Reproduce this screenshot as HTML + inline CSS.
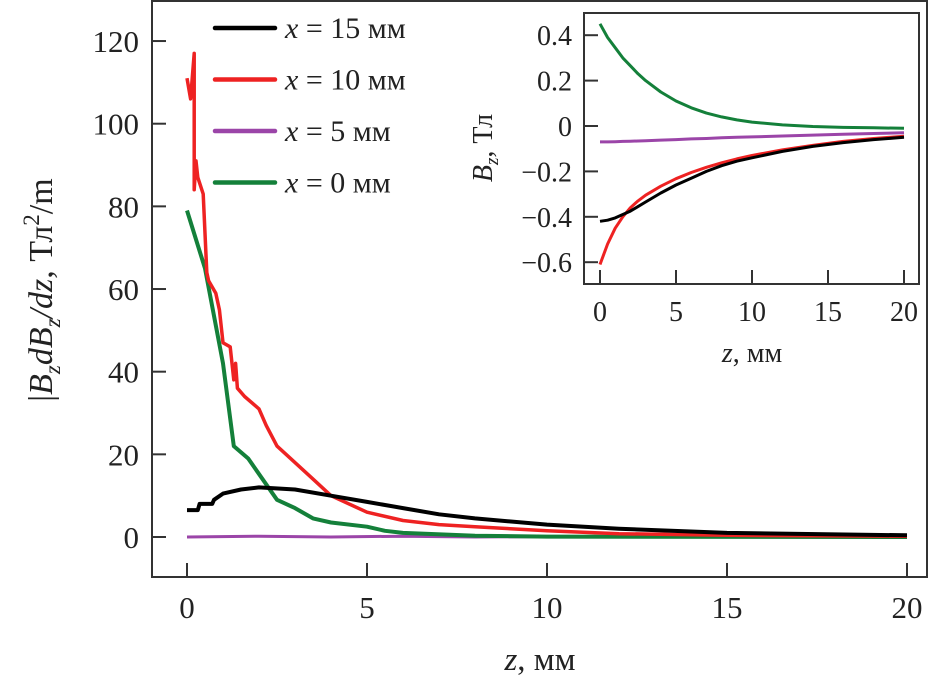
<!DOCTYPE html>
<html><head><meta charset="utf-8"><style>
body{margin:0;background:#fff}
svg text{font-family:"Liberation Serif","Times New Roman","DejaVu Serif",serif;fill:#222}
</style></head><body>
<svg width="942" height="683" viewBox="0 0 942 683" xmlns="http://www.w3.org/2000/svg" id="chart" font-family="Liberation Serif, serif">
<g id="main"></g>
<g id="inset"></g>
</svg>
<script>
const seriesNames=["x = 15 мм","x = 10 мм","x = 5 мм","x = 0 мм"];
const seriesColors=["#000000","#ee2222","#9b45a8","#14803a"];
const mainXTicks=[0,5,10,15,20];
const mainYTicks=[0,20,40,60,80,100,120];
const z15=[0,0.3,0.35,0.7,0.75,1,1.5,2,3,4,5,6,7,8,10,12,15,20];
const v15=[6.5,6.5,8,8,9,10.5,11.5,12,11.5,10,8.5,7,5.5,4.5,3,2,1,0.4];
const z10=[0,0.1,0.2,0.2,0.25,0.3,0.45,0.55,0.6,0.8,0.9,1.0,1.2,1.3,1.35,1.4,1.6,2,2.2,2.5,3,3.5,4,5,6,7,8,10,12,15,20];
const v10=[111,106,117,84,91,87,83,64,62,59,55,47,46,38,42,36,34,31,27,22,18,14,10,6,4,3,2.5,1.5,0.8,0.4,0.2];
const z5=[0,2,4,6,8,10,15,20];
const v5=[0,0.2,0,0.2,0,0.1,0,0];
const z0=[0,0.5,1,1.3,1.7,2.5,3,3.5,4,5,5.5,6,8,10,20];
const v0=[79,65,42,22,19,9,7,4.5,3.5,2.5,1.5,1,0.3,0.1,0];
const insetXTicks=[0,5,10,15,20];
const insetYTicks=[0.4,0.2,0,-0.2,-0.4,-0.6];
const insetYLabels=["0.4","0.2","0","−0.2","−0.4","−0.6"];
const iz=[0,0.5,1,1.5,2,2.5,3,4,5,6,7,8,9,10,12,14,16,18,20];
const ib15=[-0.42,-0.415,-0.405,-0.39,-0.375,-0.355,-0.335,-0.295,-0.26,-0.23,-0.2,-0.175,-0.155,-0.14,-0.112,-0.09,-0.073,-0.06,-0.05];
const ib10=[-0.61,-0.52,-0.45,-0.40,-0.36,-0.33,-0.305,-0.265,-0.232,-0.205,-0.182,-0.162,-0.145,-0.13,-0.105,-0.085,-0.068,-0.055,-0.045];
const ib5=[-0.07,-0.07,-0.069,-0.068,-0.067,-0.066,-0.065,-0.062,-0.06,-0.057,-0.055,-0.052,-0.05,-0.048,-0.044,-0.04,-0.036,-0.033,-0.03];
const ib0=[0.45,0.39,0.345,0.3,0.265,0.23,0.2,0.15,0.11,0.08,0.057,0.04,0.027,0.017,0.005,-0.002,-0.006,-0.008,-0.01];

const NS="http://www.w3.org/2000/svg";
function mk(p,t,a){const e=document.createElementNS(NS,t);for(const k in a)e.setAttribute(k,a[k]);if(t==='text')e.setAttribute('font-family','Liberation Serif, Times New Roman, serif');p.appendChild(e);return e;}
const main=document.getElementById('main'), inset=document.getElementById('inset');
const mx=v=>187+v*36, my=v=>537-v*4.133;
const ix=v=>600+v*15.2, iy=v=>126-v*227;
function path(g,xs,ys,fx,fy,col,w,name){
  let d=xs.map((x,i)=>(i?'L':'M')+fx(x).toFixed(1)+' '+fy(ys[i]).toFixed(1)).join(' ');
  const p=mk(g,'path',{d:d,fill:'none',stroke:col,'stroke-width':w,'stroke-linejoin':'round'});
  
  
}
let f=mk(main,'rect',{x:152,y:1,width:775,height:576,fill:'none',stroke:'#333','stroke-width':2});

mainXTicks.forEach(t=>{
  mk(main,'line',{x1:mx(t),x2:mx(t),y1:577,y2:563,stroke:'#333','stroke-width':2});
  const e=mk(main,'text',{x:mx(t),y:618,'font-size':31,'text-anchor':'middle'});e.textContent=t;
  
});
mainYTicks.forEach(t=>{
  mk(main,'line',{x1:152,x2:166,y1:my(t),y2:my(t),stroke:'#333','stroke-width':2});
  const e=mk(main,'text',{x:139,y:my(t)+11,'font-size':31,'text-anchor':'end'});e.textContent=t;
  
});
let xt=mk(main,'text',{x:540,y:670,'font-size':33,'text-anchor':'middle'});
xt.innerHTML='<tspan font-style="italic">z</tspan>, мм';

let yt=mk(main,'text',{transform:'translate(52,290) rotate(-90)','font-size':34,'text-anchor':'middle'});
yt.innerHTML='|<tspan font-style="italic">B</tspan><tspan font-size="23" dy="8" font-style="italic">z</tspan><tspan dy="-8" font-style="italic">dB</tspan><tspan font-size="23" dy="8" font-style="italic">z</tspan><tspan dy="-8" font-style="italic">/dz</tspan>, Тл<tspan font-size="23" dy="-13">2</tspan><tspan dy="13">/m</tspan>';

path(main,z5,v5,mx,my,seriesColors[2],3,'series-x5');
path(main,z0,v0,mx,my,seriesColors[3],4,'series-x0');
path(main,z10,v10,mx,my,seriesColors[1],3.5,'series-x10');
path(main,z15,v15,mx,my,seriesColors[0],4,'series-x15');
seriesNames.forEach((n,i)=>{
  const y=28+i*51.5;
  const l=mk(main,'line',{x1:215,x2:275,y1:y,y2:y,stroke:seriesColors[i],'stroke-width':4.5,'stroke-linecap':'round'});
  
  const t=mk(main,'text',{x:285,y:y+10,'font-size':30});
  t.innerHTML='<tspan font-style="italic">x</tspan>'+n.slice(1);
  
});
let bg=mk(inset,'rect',{x:584,y:13,width:335,height:271,fill:'#fff',stroke:'#333','stroke-width':2});

insetXTicks.forEach(t=>{
  mk(inset,'line',{x1:ix(t),x2:ix(t),y1:284,y2:270,stroke:'#333','stroke-width':2});
  const e=mk(inset,'text',{x:ix(t),y:321,'font-size':28,'text-anchor':'middle'});e.textContent=t;
  
});
insetYTicks.forEach((t,i)=>{
  mk(inset,'line',{x1:584,x2:598,y1:iy(t),y2:iy(t),stroke:'#333','stroke-width':2});
  const e=mk(inset,'text',{x:572,y:iy(t)+10,'font-size':28,'text-anchor':'end'});e.textContent=insetYLabels[i];
  
});
let ixt=mk(inset,'text',{x:752,y:362,'font-size':28,'text-anchor':'middle'});
ixt.innerHTML='<tspan font-style="italic">z</tspan>, мм';

let iyt=mk(inset,'text',{transform:'translate(492,148) rotate(-90)','font-size':28,'text-anchor':'middle'});
iyt.innerHTML='<tspan font-style="italic">B</tspan><tspan font-size="19" dy="6" font-style="italic">z</tspan><tspan dy="-6">, Тл</tspan>';

path(inset,iz,ib0,ix,iy,seriesColors[3],3,'inset-series-x0');
path(inset,iz,ib5,ix,iy,seriesColors[2],3,'inset-series-x5');
path(inset,iz,ib10,ix,iy,seriesColors[1],3,'inset-series-x10');
path(inset,iz,ib15,ix,iy,seriesColors[0],3,'inset-series-x15');
</script>
</body></html>
